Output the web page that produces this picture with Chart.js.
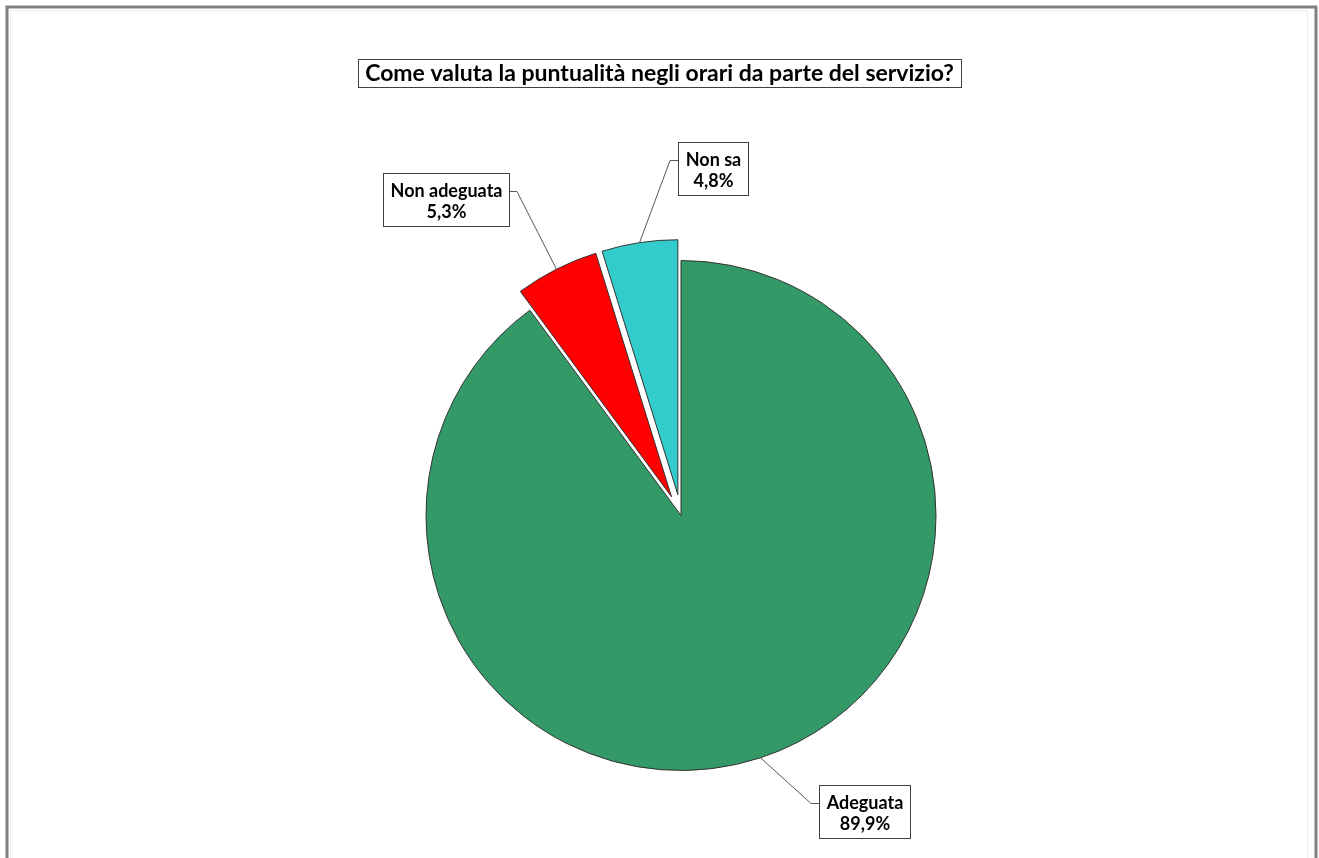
<!DOCTYPE html>
<html>
<head>
<meta charset="utf-8">
<script src="https://cdn.jsdelivr.net/npm/chart.js@4.4.1/dist/chart.umd.min.js"></script>
<style>
  html, body { margin: 0; padding: 0; background: #ffffff; }
  #wrap { width: 1319px; height: 858px; position: relative; }
</style>
</head>
<body>
<div id="wrap"><canvas id="chart" width="1319" height="858"></canvas></div>
<script>
// Survey answers: "Come valuta la puntualità negli orari da parte del servizio?"
const titleText = 'Come valuta la puntualità negli orari da parte del servizio?';
const categories = ['Adeguata', 'Non adeguata', 'Non sa'];
const percentages = [89.9, 5.3, 4.8];
const sliceColors = ['#339966', '#FF0000', '#33CCCC'];
const explodedSlices = [0, 21, 21];            // pull-out distance of each slice
// where each label box sits, relative to the outer middle point of its slice
const labelOffsets = [[104, 54], [-110, -70], [73, -74]];

const fmt = v => v.toFixed(1).replace('.', ',') + '%';

// Shift the pulled-out slices along their middle angle
const explodePlugin = {
  id: 'explode',
  afterDatasetsUpdate(chart) {
    const meta = chart.getDatasetMeta(0);
    meta.data.forEach((arc, i) => {
      const d = explodedSlices[i] || 0;
      if (!d) return;
      const mid = (arc.startAngle + arc.endAngle) / 2;
      arc.x += Math.cos(mid) * d;
      arc.y += Math.sin(mid) * d;
    });
  }
};

// Outer frame and boxed title
const framePlugin = {
  id: 'frame',
  beforeDraw(chart) {
    const ctx = chart.ctx;
    ctx.save();
    ctx.fillStyle = '#ffffff';
    ctx.fillRect(0, 0, chart.width, chart.height);
    ctx.strokeStyle = '#eeeeee';
    ctx.lineWidth = 1;
    ctx.strokeRect(10.5, 10.5, chart.width - 22, chart.height + 40);
    ctx.strokeStyle = '#808080';
    ctx.lineWidth = 3;
    ctx.strokeRect(7, 7, chart.width - 10, chart.height + 40);

    ctx.font = 'bold 23px Lato, "DejaVu Sans", sans-serif';
    ctx.textAlign = 'center';
    ctx.textBaseline = 'middle';
    const w = ctx.measureText(titleText).width;
    const cx = chart.width / 2, cy = 72.5;
    const bw = w + 14, bh = 28;
    ctx.fillStyle = '#ffffff';
    ctx.fillRect(cx - bw / 2, cy - bh / 2, bw, bh);
    ctx.strokeStyle = '#404040';
    ctx.lineWidth = 1;
    ctx.strokeRect(Math.round(cx - bw / 2) + 0.5, Math.round(cy - bh / 2) + 0.5, Math.round(bw), bh);
    ctx.fillStyle = '#000000';
    ctx.fillText(titleText, cx, cy + 1);
    ctx.restore();
  }
};

// Boxed data labels with leader lines
const labelPlugin = {
  id: 'boxLabels',
  afterDatasetsDraw(chart) {
    const ctx = chart.ctx;
    const meta = chart.getDatasetMeta(0);
    const values = chart.data.datasets[0].data;
    ctx.save();
    ctx.font = 'bold 18px Lato, "DejaVu Sans", sans-serif';
    meta.data.forEach((arc, i) => {
      const mid = (arc.startAngle + arc.endAngle) / 2;
      const ax = arc.x + Math.cos(mid) * arc.outerRadius;
      const ay = arc.y + Math.sin(mid) * arc.outerRadius;
      const l1 = chart.data.labels[i];
      const l2 = fmt(values[i]);
      const tw = Math.max(ctx.measureText(l1).width, ctx.measureText(l2).width);
      const bw = Math.round(tw + 14), bh = 53;
      const bcx = ax + labelOffsets[i][0], bcy = ay + labelOffsets[i][1];
      const left = Math.round(bcx - bw / 2), top = Math.round(bcy - bh / 2);
      const joinY = top + 18;
      const onLeft = bcx < ax;
      const edgeX = onLeft ? left + bw : left;
      const elbowX = onLeft ? edgeX + 8 : edgeX - 8;
      // leader line
      ctx.strokeStyle = '#595959';
      ctx.lineWidth = 1;
      ctx.beginPath();
      ctx.moveTo(ax, ay);
      ctx.lineTo(elbowX, joinY + 0.5);
      ctx.lineTo(edgeX, joinY + 0.5);
      ctx.stroke();
      // box
      ctx.fillStyle = '#ffffff';
      ctx.fillRect(left, top, bw, bh);
      ctx.strokeStyle = '#404040';
      ctx.strokeRect(left + 0.5, top + 0.5, bw, bh);
      // text
      ctx.fillStyle = '#000000';
      ctx.textAlign = 'center';
      ctx.textBaseline = 'middle';
      ctx.fillText(l1, left + bw / 2 + 0.5, top + 18);
      ctx.fillText(l2, left + bw / 2 + 0.5, top + 39);
    });
    ctx.restore();
  }
};

new Chart(document.getElementById('chart'), {
  type: 'pie',
  data: {
    labels: categories,
    datasets: [{
      data: percentages,
      backgroundColor: sliceColors,
      borderColor: '#333333',
      borderWidth: 1
    }]
  },
  options: {
    responsive: false,
    animation: false,
    events: [],
    radius: 255,
    layout: { padding: { left: 300, right: 257, top: 260, bottom: 87 } },
    plugins: {
      legend: { display: false },
      title: { display: false },
      tooltip: { enabled: false }
    }
  },
  plugins: [framePlugin, explodePlugin, labelPlugin]
});
</script>
</body>
</html>
